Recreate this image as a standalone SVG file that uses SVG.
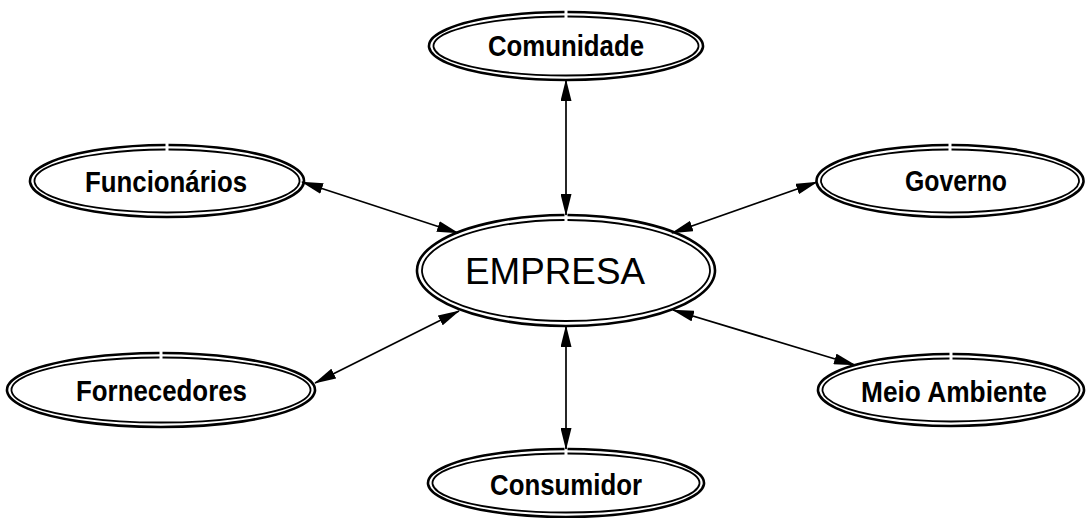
<svg xmlns="http://www.w3.org/2000/svg" width="1086" height="518" viewBox="0 0 1086 518">
<style>
.outer{fill:none;stroke:#000;stroke-width:2.6}
.inner{fill:none;stroke:#000;stroke-width:1.8}
.lbl{font-family:"Liberation Sans Narrow","Arial Narrow","Liberation Sans",Arial,sans-serif;font-weight:bold;font-size:29px;fill:#000;text-anchor:middle}
.main{font-family:"Liberation Sans",Arial,sans-serif;font-size:36px;fill:#000;text-anchor:middle}
.conn{stroke:#000;stroke-width:1.7;fill:none;marker-start:url(#ah);marker-end:url(#ah)}
</style>
<defs>
<marker id="ah" viewBox="0 0 22 11" refX="21" refY="5.5" markerWidth="22" markerHeight="11" markerUnits="userSpaceOnUse" orient="auto-start-reverse">
<path d="M0,0 L22,5.5 L0,11 Z" fill="#000"/>
</marker>
</defs>
<rect width="1086" height="518" fill="#fff"/>
<g id="connectors">
<line class="conn" x1="566" y1="80" x2="566" y2="215"/>
<line class="conn" x1="566" y1="326" x2="566" y2="449"/>
<line class="conn" x1="302" y1="182" x2="458" y2="233"/>
<line class="conn" x1="672" y1="233" x2="817" y2="182"/>
<line class="conn" x1="315" y1="383" x2="459" y2="311"/>
<line class="conn" x1="673" y1="310" x2="855" y2="365"/>
</g>
<g id="empresa">
<path class="outer" d="M567.5,215 A149,55.5 0 1 1 564.5,215"/>
<path class="inner" d="M567.5,220 A144,50.5 0 1 1 564.5,220"/>
<text class="main" x="555" y="284" textLength="180" lengthAdjust="spacingAndGlyphs">EMPRESA</text>
</g>
<g id="comunidade">
<path class="outer" d="M567.5,12 A137,34 0 1 1 564.5,12"/>
<path class="inner" d="M567.5,16.5 A132.5,29.5 0 1 1 564.5,16.5"/>
<text class="lbl" x="566" y="56" textLength="156" lengthAdjust="spacingAndGlyphs">Comunidade</text>
</g>
<g id="funcionarios">
<path class="outer" d="M168.5,145 A137,36 0 1 1 165.5,145"/>
<path class="inner" d="M168.5,149.5 A132.5,31.5 0 1 1 165.5,149.5"/>
<text class="lbl" x="166" y="192" textLength="162" lengthAdjust="spacingAndGlyphs">Funcionários</text>
</g>
<g id="governo">
<path class="outer" d="M951.5,145 A133.5,36 0 1 1 948.5,145"/>
<path class="inner" d="M951.5,149.5 A129,31.5 0 1 1 948.5,149.5"/>
<text class="lbl" x="956" y="191" textLength="102" lengthAdjust="spacingAndGlyphs">Governo</text>
</g>
<g id="fornecedores">
<path class="outer" d="M162.5,353 A154,37 0 1 1 159.5,353"/>
<path class="inner" d="M162.5,357.5 A149.5,32.5 0 1 1 159.5,357.5"/>
<text class="lbl" x="161.5" y="401" textLength="171" lengthAdjust="spacingAndGlyphs">Fornecedores</text>
</g>
<g id="meio-ambiente">
<path class="outer" d="M952.5,354 A133,36 0 1 1 949.5,354"/>
<path class="inner" d="M952.5,358.5 A128.5,31.5 0 1 1 949.5,358.5"/>
<text class="lbl" x="954" y="402" textLength="186" lengthAdjust="spacingAndGlyphs">Meio Ambiente</text>
</g>
<g id="consumidor">
<path class="outer" d="M567.5,449 A138,34 0 1 1 564.5,449"/>
<path class="inner" d="M567.5,453.5 A133.5,29.5 0 1 1 564.5,453.5"/>
<text class="lbl" x="566" y="495" textLength="152" lengthAdjust="spacingAndGlyphs">Consumidor</text>
</g>
</svg>
